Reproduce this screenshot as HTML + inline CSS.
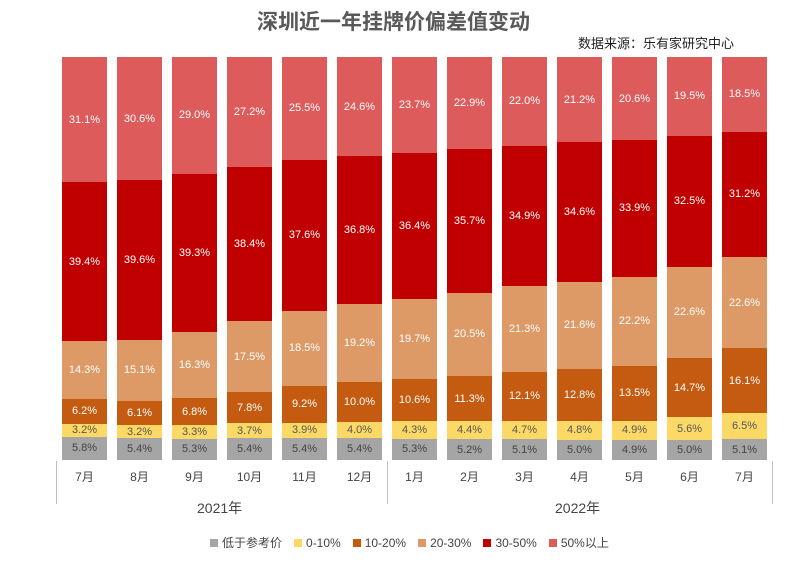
<!DOCTYPE html>
<html><head><meta charset="utf-8"><style>
body{margin:0;width:787px;height:575px;background:#fff;position:relative;overflow:hidden;font-family:"Liberation Sans","Noto Sans CJK SC",sans-serif}
.t{position:absolute;left:0;width:787px;top:6px;text-align:center;font-size:21px;font-weight:bold;color:#595959;padding-left:0}
.src{position:absolute;left:578px;top:33px;font-size:13px;color:#222}
.bar{position:absolute;top:57px;height:403px;width:45px;display:flex;flex-direction:column-reverse}
.bar div{display:flex;align-items:center;justify-content:center;font-size:11px;color:#fff;overflow:visible;white-space:nowrap}
.g{background:#a5a5a5;color:#444!important}.y{background:#fcd966;color:#555!important}.o{background:#c55a11}.n{background:#dd9a67}.d{background:#c00000}.r{background:#dd5b5b}
.m{position:absolute;top:468px;width:45px;text-align:center;font-size:12px;color:#444}
.yr{position:absolute;top:498px;font-size:14px;color:#444}
.vl{position:absolute;width:1px;background:#bfbfbf;top:461px;height:43px}
.lg{position:absolute;top:534px;left:210px;font-size:12px;color:#444;display:flex;gap:0}
.lg span{margin-right:12px;display:flex;align-items:center}
.lg i{display:inline-block;width:8px;height:8px;margin-right:4px}
</style></head><body>
<div class="t">深圳近一年挂牌价偏差值变动</div>
<div class="src">数据来源：乐有家研究中心</div>

<div class="bar" style="left:62px"><div class="g" style="flex:5.8">5.8%</div><div class="y" style="flex:3.2">3.2%</div><div class="o" style="flex:6.2">6.2%</div><div class="n" style="flex:14.3">14.3%</div><div class="d" style="flex:39.4">39.4%</div><div class="r" style="flex:31.1">31.1%</div></div>
<div class="bar" style="left:117px"><div class="g" style="flex:5.4">5.4%</div><div class="y" style="flex:3.2">3.2%</div><div class="o" style="flex:6.1">6.1%</div><div class="n" style="flex:15.1">15.1%</div><div class="d" style="flex:39.6">39.6%</div><div class="r" style="flex:30.6">30.6%</div></div>
<div class="bar" style="left:172px"><div class="g" style="flex:5.3">5.3%</div><div class="y" style="flex:3.3">3.3%</div><div class="o" style="flex:6.8">6.8%</div><div class="n" style="flex:16.3">16.3%</div><div class="d" style="flex:39.3">39.3%</div><div class="r" style="flex:29.0">29.0%</div></div>
<div class="bar" style="left:227px"><div class="g" style="flex:5.4">5.4%</div><div class="y" style="flex:3.7">3.7%</div><div class="o" style="flex:7.8">7.8%</div><div class="n" style="flex:17.5">17.5%</div><div class="d" style="flex:38.4">38.4%</div><div class="r" style="flex:27.2">27.2%</div></div>
<div class="bar" style="left:282px"><div class="g" style="flex:5.4">5.4%</div><div class="y" style="flex:3.9">3.9%</div><div class="o" style="flex:9.2">9.2%</div><div class="n" style="flex:18.5">18.5%</div><div class="d" style="flex:37.6">37.6%</div><div class="r" style="flex:25.5">25.5%</div></div>
<div class="bar" style="left:337px"><div class="g" style="flex:5.4">5.4%</div><div class="y" style="flex:4.0">4.0%</div><div class="o" style="flex:10.0">10.0%</div><div class="n" style="flex:19.2">19.2%</div><div class="d" style="flex:36.8">36.8%</div><div class="r" style="flex:24.6">24.6%</div></div>
<div class="bar" style="left:392px"><div class="g" style="flex:5.3">5.3%</div><div class="y" style="flex:4.3">4.3%</div><div class="o" style="flex:10.6">10.6%</div><div class="n" style="flex:19.7">19.7%</div><div class="d" style="flex:36.4">36.4%</div><div class="r" style="flex:23.7">23.7%</div></div>
<div class="bar" style="left:447px"><div class="g" style="flex:5.2">5.2%</div><div class="y" style="flex:4.4">4.4%</div><div class="o" style="flex:11.3">11.3%</div><div class="n" style="flex:20.5">20.5%</div><div class="d" style="flex:35.7">35.7%</div><div class="r" style="flex:22.9">22.9%</div></div>
<div class="bar" style="left:502px"><div class="g" style="flex:5.1">5.1%</div><div class="y" style="flex:4.7">4.7%</div><div class="o" style="flex:12.1">12.1%</div><div class="n" style="flex:21.3">21.3%</div><div class="d" style="flex:34.9">34.9%</div><div class="r" style="flex:22.0">22.0%</div></div>
<div class="bar" style="left:557px"><div class="g" style="flex:5.0">5.0%</div><div class="y" style="flex:4.8">4.8%</div><div class="o" style="flex:12.8">12.8%</div><div class="n" style="flex:21.6">21.6%</div><div class="d" style="flex:34.6">34.6%</div><div class="r" style="flex:21.2">21.2%</div></div>
<div class="bar" style="left:612px"><div class="g" style="flex:4.9">4.9%</div><div class="y" style="flex:4.9">4.9%</div><div class="o" style="flex:13.5">13.5%</div><div class="n" style="flex:22.2">22.2%</div><div class="d" style="flex:33.9">33.9%</div><div class="r" style="flex:20.6">20.6%</div></div>
<div class="bar" style="left:667px"><div class="g" style="flex:5.0">5.0%</div><div class="y" style="flex:5.6">5.6%</div><div class="o" style="flex:14.7">14.7%</div><div class="n" style="flex:22.6">22.6%</div><div class="d" style="flex:32.5">32.5%</div><div class="r" style="flex:19.5">19.5%</div></div>
<div class="bar" style="left:722px"><div class="g" style="flex:5.1">5.1%</div><div class="y" style="flex:6.5">6.5%</div><div class="o" style="flex:16.1">16.1%</div><div class="n" style="flex:22.6">22.6%</div><div class="d" style="flex:31.2">31.2%</div><div class="r" style="flex:18.5">18.5%</div></div>

<div class="vl" style="left:56px"></div><div class="vl" style="left:387px"></div><div class="vl" style="left:772px"></div>
<div class="m" style="left:62px">7月</div><div class="m" style="left:117px">8月</div><div class="m" style="left:172px">9月</div><div class="m" style="left:227px">10月</div><div class="m" style="left:282px">11月</div><div class="m" style="left:337px">12月</div><div class="m" style="left:392px">1月</div><div class="m" style="left:447px">2月</div><div class="m" style="left:502px">3月</div><div class="m" style="left:557px">4月</div><div class="m" style="left:612px">5月</div><div class="m" style="left:667px">6月</div><div class="m" style="left:722px">7月</div>
<div class="yr" style="left:197px">2021年</div><div class="yr" style="left:555px">2022年</div>

<div class="lg"><span><i style="background:#a5a5a5"></i>低于参考价</span><span><i style="background:#fcd966"></i>0-10%</span><span><i style="background:#c55a11"></i>10-20%</span><span><i style="background:#dd9a67"></i>20-30%</span><span><i style="background:#c00000"></i>30-50%</span><span><i style="background:#dd5b5b"></i>50%以上</span></div>
</body></html>
